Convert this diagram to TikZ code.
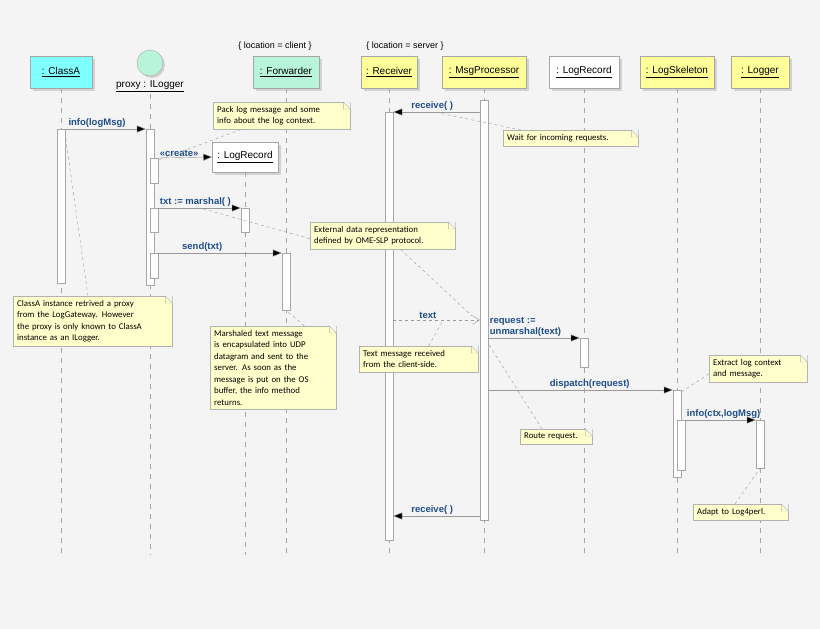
\documentclass[tikz,border=0pt]{standalone}
\usepackage{fontspec}
\setmainfont{Liberation Sans}
\newfontfamily\notefont{Carlito}
\usetikzlibrary{arrows.meta, calc, positioning, shadows}
\definecolor{bg}{HTML}{F4F4F4}
\definecolor{msgblue}{HTML}{1F4E8C}
\definecolor{cyanobj}{HTML}{80FFFF}
\definecolor{mintobj}{HTML}{B8F5D8}
\definecolor{yellobj}{HTML}{FFFF99}
\definecolor{notebg}{HTML}{FFFFCC}
\tikzset{%
    obj/.style={%
        rectangle,
        draw=gray!70,
        fill=yellobj,
        minimum height=32pt,
        inner xsep=5pt,
        font=\fontsize{10}{11}\selectfont,
        drop shadow={shadow xshift=3pt, shadow yshift=-3pt, fill=gray!60},
    },
    life/.style={gray!70, dash pattern=on 5pt off 5pt, thin},
    act/.style={%
        rectangle,
        draw=gray!70,
        fill=white,
        minimum width=8pt,
        inner sep=0pt,
    },
    msg/.style={%
        gray!80, thin,
        -{Triangle[length=9pt,width=7pt,fill=black]},
    },
    retmsg/.style={%
        gray!80, thin, dashed,
        -{Straight Barb[length=7pt,width=9pt]},
    },
    lbl/.style={%
        font=\bfseries\fontsize{9.5}{11}\selectfont,
        text=msgblue,
        anchor=south west,
        inner sep=1.5pt,
    },
    note/.style={%
        rectangle,
        draw=gray!60,
        fill=notebg,
        font=\notefont\fontsize{8.8}{11.5}\selectfont,
        align=left,
        inner sep=4pt,
    },
    link/.style={gray!80, dashed, thin},
}
\begin{document}
\begin{tikzpicture}[x=1pt, y=-1pt]
    \fill[bg] (0,0) rectangle (820,629);
    \useasboundingbox (0,0) rectangle (820,629);

    % lifelines
    \foreach \x/\top in {61/88, 150/94, 245/172, 286/88, 389/88, 484/88, 584/88, 677/88, 760/88}
        \draw[life] (\x,\top) -- (\x,555);

    % objects
    \node [obj, fill=cyanobj, minimum width=62pt] at (61,72) (classa) {\underline{: ClassA}};
    \node [circle, draw=gray!70, fill=mintobj, minimum size=26pt,
        drop shadow={shadow xshift=2pt, shadow yshift=-2pt, fill=gray!60}] at (150,63) (proxy) {};
    \node [font=\fontsize{10}{11}\selectfont, below=1pt of proxy] (proxy_lbl) {\underline{proxy : ILogger}};
    \node [obj, fill=mintobj, minimum width=66pt] at (286,72) (fwd) {\underline{: Forwarder}};
    \node [obj, minimum width=56pt] at (389,72) (recv) {\underline{: Receiver}};
    \node [obj, minimum width=84pt] at (484,72) (proc) {\underline{: MsgProcessor}};
    \node [obj, fill=white, minimum width=70pt] at (584,72) (rec_s) {\underline{: LogRecord}};
    \node [obj, minimum width=74pt] at (677,72) (skel) {\underline{: LogSkeleton}};
    \node [obj, minimum width=58pt] at (760,72) (logger) {\underline{: Logger}};
    \node [obj, fill=white, minimum width=60pt, minimum height=30pt] at (245,157) (rec_c) {\underline{: LogRecord}};

    \node [font=\fontsize{9}{10}\selectfont] at (275,46) (loc_client) {\{ location = client \}};
    \node [font=\fontsize{9}{10}\selectfont] at (405,46) (loc_server) {\{ location = server \}};

    % activations
    \node [act, minimum height=154pt] at (61,206) (act_a) {};
    \node [act, minimum height=156pt] at (150,207) (act_p) {};
    \node [act, minimum height=25pt] at (154,170.5) (act_p1) {};
    \node [act, minimum height=24pt] at (154,220) (act_p2) {};
    \node [act, minimum height=25pt] at (154,265.5) (act_p3) {};
    \node [act, minimum height=24pt] at (245,220) (act_rc) {};
    \node [act, minimum height=57pt] at (286,281.5) (act_f) {};
    \node [act, minimum height=428pt] at (389,326) (act_r) {};
    \node [act, minimum height=420pt] at (484,310) (act_m) {};
    \node [act, minimum height=29pt] at (584,352.5) (act_rs) {};
    \node [act, minimum height=87pt] at (677,433.5) (act_s) {};
    \node [act, minimum height=50pt] at (681,445) (act_s1) {};
    \node [act, minimum height=48pt] at (760,444) (act_l) {};

    % messages
    \draw[msg] (act_a.east |- 0,129) -- node[lbl, pos=0.02] {info(logMsg)} (act_p.west |- 0,129);
    \draw[msg] (act_p1.east |- 0,158) -- node[lbl, pos=0.0] {\guillemotleft create\guillemotright} (rec_c.west);
    \draw[msg] (act_p2.east |- 0,208) -- node[lbl, pos=0.0] {txt := marshal( )} (act_rc.west |- 0,208);
    \draw[msg] (act_p3.east |- 0,253) -- node[lbl, pos=0.18] {send(txt)} (act_f.west |- 0,253);
    \draw[msg] (act_m.west |- 0,112) -- node[lbl, pos=0.55, anchor=south] {receive( )} (act_r.east |- 0,112);
    \draw[retmsg] (act_r.east |- 0,320) -- node[lbl, pos=0.4, anchor=south] {text} (act_m.west |- 0,320);
    \draw[msg] (act_m.east |- 0,338) -- node[lbl, pos=0.0, align=left] {request :=\\unmarshal(text)} (act_rs.west |- 0,338);
    \draw[msg] (act_m.east |- 0,390) -- node[lbl, pos=0.55, anchor=south] {dispatch(request)} (act_s.west |- 0,390);
    \draw[msg] (act_s1.east |- 0,420) -- node[lbl, pos=0.0] {info(ctx,logMsg)} (act_l.west |- 0,420);
    \draw[msg] (act_m.west |- 0,516) -- node[lbl, pos=0.55, anchor=south] {receive( )} (act_r.east |- 0,516);

    % notes
    \node [note, anchor=north west, text width=129pt] at (213,102) (n_pack) {Pack log message and some\\info about the log context.};
    \node [note, anchor=north west, text width=127pt] at (503,130) (n_wait) {Wait for incoming requests.};
    \node [note, anchor=north west, text width=137pt] at (310,222) (n_ext) {External data representation\\defined by OME-SLP protocol.};
    \node [note, anchor=north west, text width=151pt] at (13,296) (n_classa) {ClassA instance retrived a proxy\\from the LogGateway. However\\the proxy is only known to ClassA\\instance as an ILogger.};
    \node [note, anchor=north west, text width=118pt] at (210,326) (n_udp) {Marshaled text message\\is encapsulated into UDP\\datagram and sent to the\\server. As soon as the\\message is put on the OS\\buffer, the info method\\returns.};
    \node [note, anchor=north west, text width=111pt] at (359,346) (n_text) {Text message received\\from the client-side.};
    \node [note, anchor=north west, text width=64pt] at (520,429) (n_route) {Route request.};
    \node [note, anchor=north west, text width=90pt] at (709,355) (n_extract) {Extract log context\\and message.};
    \node [note, anchor=north west, text width=87pt] at (693,504) (n_adapt) {Adapt to Log4perl.};

    % folded corners
    \foreach \n in {n_pack, n_wait, n_ext, n_classa, n_udp, n_text, n_route, n_extract, n_adapt} {
        \fill[bg] ($(\n.north east)+(-7,0)$) -- (\n.north east) -- ($(\n.north east)+(0,7)$) -- cycle;
        \draw[gray!60] ($(\n.north east)+(-7,0)$) -- ($(\n.north east)+(-7,7)$) -- ($(\n.north east)+(0,7)$) -- cycle;
    }

    % note links
    \draw[link] (n_pack.south west) ++(28,0) -- (act_p1.east |- 0,160);
    \draw[link] (n_wait.north west) ++(18,0) -- (434,112);
    \draw[link] (n_ext.west) ++(0,3) -- (200,208);
    \draw[link] (n_ext.south) ++(18,0) -- (472,316);
    \draw[link] (n_classa.north west) ++(75,0) -- (act_a.east |- 0,135);
    \draw[link] (n_udp.north east) ++(-32,0) -- (act_f.south);
    \draw[link] (n_text.north) ++(10,0) -- (442,322);
    \draw[link] (n_route.north west) ++(22,0) -- (488,343);
    \draw[link] (n_extract.west) ++(0,5) -- (act_s.east |- 0,392);
    \draw[link] (n_adapt.north west) ++(42,0) -- (act_l.south);
\end{tikzpicture}
\end{document}
